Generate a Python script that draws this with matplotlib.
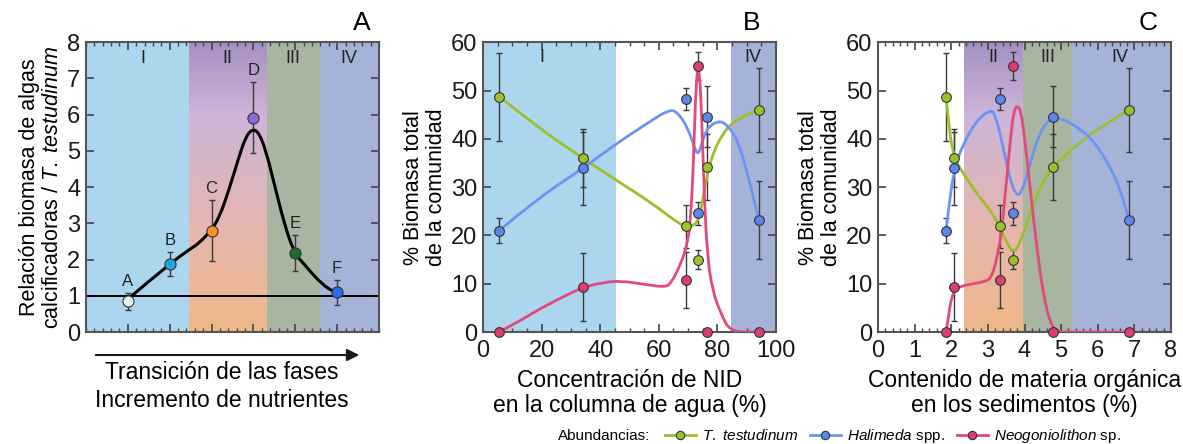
import numpy as np
import matplotlib
matplotlib.use("Agg")
import matplotlib.pyplot as plt
from matplotlib.colors import LinearSegmentedColormap
from matplotlib.lines import Line2D
from matplotlib.path import Path
from matplotlib.patches import PathPatch
from matplotlib.ticker import MultipleLocator

plt.rcParams["font.family"] = ["Liberation Sans", "DejaVu Sans"]
plt.rcParams["mathtext.fontset"] = "custom"
plt.rcParams["mathtext.rm"] = "Liberation Sans"
plt.rcParams["mathtext.it"] = "Liberation Sans:italic"

# ----------------------------
# Panel A: ratio calcifying algae / T. testudinum
# ----------------------------
phase_x = [1, 2, 3, 4, 5, 6]
phase_names = ["A", "B", "C", "D", "E", "F"]
ratio = [0.85, 1.88, 2.80, 5.92, 2.18, 1.10]
ratio_err = [0.23, 0.34, 0.85, 0.99, 0.50, 0.35]
ratio_colors = ["#e4f3ec", "#22a8e0", "#f7941d", "#8a6bd8", "#1d6a2c", "#2b6cf2"]

# fitted trend
trend_x = [1.08, 2.0, 2.47, 2.71, 2.98, 3.18, 3.42, 3.66, 3.82, 3.98, 4.13, 4.29,
           4.53, 4.73, 4.97, 5.25, 5.64, 5.96]
trend_y = [0.99, 1.885, 2.28, 2.46, 2.80, 3.15, 3.94, 4.86, 5.40, 5.61, 5.50, 5.04,
           3.94, 3.02, 2.19, 1.82, 1.31, 1.09]

# ----------------------------
# Panels B and C: % community biomass per site
# ----------------------------
nid = [5.5, 34.1, 69.4, 73.5, 76.4, 94.1]          # % NID in water column
organic = [1.86, 2.08, 3.33, 3.68, 4.77, 6.85]     # % organic matter in sediments

thal = [48.7, 36.0, 21.9, 15.0, 34.1, 46.0]
thal_err = [9.1, 6.0, 4.5, 1.9, 6.8, 8.7]
hali = [21.0, 33.9, 48.2, 24.6, 44.6, 23.2]
hali_err = [2.6, 7.5, 2.3, 2.4, 6.3, 8.0]
neog = [0.0, 9.3, 10.8, 55.0, 0.0, 0.0]
neog_err = [0.0, 7.0, 5.8, 2.9, 0.0, 0.0]

# trend lines, panel B
thal_b_x = [5.5, 18.5, 34.1, 45.5, 57.2, 67.5, 70.9, 73.7, 75.5, 77.8, 82.3, 86.9, 94.1]
thal_b_y = [48.8, 42.4, 36.0, 31.4, 26.9, 22.1, 21.7, 23.1, 29.3, 36.2, 41.7, 44.1, 46.1]
hali_b_x = [5.5, 18.5, 34.1, 45.5, 55.0, 63.5, 66.4, 69.8, 72.1, 73.4, 74.6, 76.6,
            80.6, 83.5, 86.9, 90.3, 94.1]
hali_b_y = [21.0, 27.6, 33.9, 39.0, 42.8, 46.1, 45.5, 42.4, 38.3, 36.6, 39.0, 42.4,
            43.8, 42.8, 39.7, 32.8, 23.2]
neog_b_x = [5.5, 12.8, 18.5, 25.3, 34.1, 41.3, 47.0, 55.0, 61.8, 64.1, 67.5, 69.8,
            70.9, 71.8, 72.5, 73.2, 73.9, 74.6, 75.5, 76.6, 78.3, 81.2, 84.4, 94.1]
neog_b_y = [0.0, 2.4, 4.5, 6.7, 9.3, 10.3, 10.6, 9.9, 9.3, 10.0, 14.1, 18.3,
            23.8, 34.8, 48.6, 54.8, 53.4, 45.2, 27.9, 15.5, 8.6, 3.8, 0.0, 0.0]

# trend lines, panel C
thal_c_x = [1.86, 1.94, 2.08, 2.33, 2.69, 3.06, 3.33, 3.51, 3.70, 3.88, 4.15, 4.47,
            4.77, 5.16, 5.70, 6.25, 6.85]
thal_c_y = [48.7, 41.8, 36.0, 32.8, 28.7, 25.3, 21.8, 18.4, 16.4, 18.4, 24.6, 30.8,
            34.2, 37.0, 40.4, 43.2, 46.0]
hali_c_x = [1.86, 1.92, 2.08, 2.33, 2.69, 3.06, 3.19, 3.38, 3.60, 3.79, 3.92, 4.11,
            4.33, 4.61, 4.97, 5.43, 5.88, 6.34, 6.62, 6.85]
hali_c_y = [21.0, 25.3, 33.9, 39.0, 43.8, 46.0, 45.2, 39.7, 31.5, 28.1, 29.0, 33.5,
            39.7, 43.8, 44.4, 42.5, 39.7, 34.2, 29.4, 23.2]
neog_c_x = [1.86, 1.92, 2.01, 2.14, 2.42, 2.97, 3.10, 3.24, 3.38, 3.51, 3.62, 3.71,
            3.80, 3.90, 4.01, 4.15, 4.33, 4.52, 4.70, 4.88, 5.16, 6.85]
neog_c_y = [0.0, 3.2, 7.4, 9.1, 9.8, 10.5, 11.5, 14.9, 21.1, 31.5, 40.4, 45.9,
            46.9, 45.9, 39.7, 30.1, 17.7, 7.4, 1.9, 0.1, 0.0, 0.0]

# colours
c_thal, c_thal_pt = "#9cbf2c", "#9cc22a"
c_hali, c_hali_pt = "#6d94f2", "#5b86ee"
c_neog, c_neog_pt = "#e2497c", "#dc3e73"
c_I, c_III, c_IV = "#acd5ee", "#a8b5a1", "#a6b3d8"
phase2_cmap = LinearSegmentedColormap.from_list(
    "phase2", [(0.0, "#efb887"), (0.35, "#e6b6ae"), (0.75, "#ccb5d8"), (1.0, "#a590c3")])

edge = "#555555"
tick_fs = 17
label_fs = 16.5


def style_axes(ax):
    for s in ax.spines.values():
        s.set_color(edge)
        s.set_linewidth(1.5)
    ax.tick_params(which="both", direction="in", top=True, right=True,
                   color="#444444", labelsize=tick_fs, labelcolor="#1a1a1a")
    ax.tick_params(which="major", length=6, width=1.2, pad=4)
    ax.tick_params(which="minor", length=3, width=1.0)
    ax.tick_params(axis="x", which="major", pad=6)


def phase2_band(ax, x0, x1, ymax):
    grad = np.linspace(0, 1, 256).reshape(-1, 1)
    ax.imshow(grad, extent=[x0, x1, 0, ymax], origin="lower", aspect="auto",
              cmap=phase2_cmap, zorder=0)


def smooth_line(ax, xs, ys, **kw):
    # quadratic bezier through the midpoints, rounding off the corners
    pts = list(zip(xs, ys))
    verts = [pts[0]]
    codes = [Path.MOVETO]
    for i in range(1, len(pts) - 1):
        mid = ((pts[i][0] + pts[i + 1][0]) / 2, (pts[i][1] + pts[i + 1][1]) / 2)
        verts += [pts[i], mid]
        codes += [Path.CURVE3, Path.CURVE3]
    verts.append(pts[-1])
    codes.append(Path.LINETO)
    ax.add_patch(PathPatch(Path(verts, codes), fill=False, capstyle="round",
                           joinstyle="round", **kw))


def draw_series(ax, x, y, err, cx, cy, line_c, pt_c):
    ax.errorbar(x, y, yerr=err, fmt="none", ecolor="#3a3a3a", elinewidth=1.0,
                capsize=2.5, capthick=1.0, zorder=2)
    smooth_line(ax, cx, cy, edgecolor=line_c, lw=2.0, zorder=3)
    ax.plot(x, y, "o", ms=7, mfc=pt_c, mec="#333333", mew=0.8, zorder=4, clip_on=False)


fig = plt.figure(figsize=(11.83, 4.44), dpi=100)
bottom, height = 0.252, 0.653

# ----------------------------
# Panel A
# ----------------------------
ax1 = fig.add_axes([0.0727, bottom, 0.2477, height])
ax1.axvspan(0, 2.47, color=c_I, zorder=0, lw=0)
phase2_band(ax1, 2.47, 4.33, 8)
ax1.axvspan(4.33, 5.58, color=c_III, zorder=0, lw=0)
ax1.axvspan(5.58, 7, color=c_IV, zorder=0, lw=0)
ax1.axhline(1, color="black", lw=1.4, zorder=2)
smooth_line(ax1, trend_x, trend_y, edgecolor="black", lw=2.2, zorder=3)
ax1.errorbar(phase_x, ratio, yerr=ratio_err, fmt="none", ecolor="#3a3a3a",
             elinewidth=1.0, capsize=2.5, zorder=2)
for xi, yi, ei, name, col in zip(phase_x, ratio, ratio_err, phase_names, ratio_colors):
    ax1.plot(xi, yi, "o", ms=8, mfc=col, mec="#333333", mew=0.8, zorder=4)
    ax1.text(xi, yi + ei + 0.1, name, ha="center", va="bottom", fontsize=12, color="#222222")
for xt, lab in zip([1.36, 3.37, 4.93, 6.27], ["I", "II", "III", "IV"]):
    ax1.text(xt, 7.55, lab, ha="center", va="center", fontsize=13, color="#222222")
ax1.set_xlim(0, 7)
ax1.set_ylim(0, 8)
ax1.set_xticks(phase_x)
ax1.xaxis.set_minor_locator(MultipleLocator(0.2))
ax1.yaxis.set_major_locator(MultipleLocator(1))
style_axes(ax1)
ax1.tick_params(axis="x", which="both", labelbottom=False)
ax1.set_ylabel("Relación biomasa de algas\ncalcificadoras / $\\mathit{T.\\ testudinum}$",
               fontsize=15.5, linespacing=1.15, labelpad=3)
ax1.annotate("", xy=(362 / 1183, 1 - 355 / 444), xytext=(93 / 1183, 1 - 355 / 444),
             xycoords="figure fraction",
             arrowprops=dict(arrowstyle="-|>", color="#1a1a1a", lw=1.5, mutation_scale=18))
fig.text(222 / 1183, 1 - 372 / 444, "Transición de las fases", ha="center", va="center",
         fontsize=label_fs)
fig.text(222 / 1183, 1 - 400 / 444, "Incremento de nutrientes", ha="center", va="center",
         fontsize=label_fs)
fig.text(362 / 1183, 1 - 23 / 444, "A", ha="center", va="center", fontsize=19)

# ----------------------------
# Panel B
# ----------------------------
ax2 = fig.add_axes([0.4083, bottom, 0.2477, height])
ax2.axvspan(0, 45.5, color=c_I, zorder=0, lw=0)
ax2.axvspan(84.5, 100, color=c_IV, zorder=0, lw=0)
draw_series(ax2, nid, thal, thal_err, thal_b_x, thal_b_y, c_thal, c_thal_pt)
draw_series(ax2, nid, hali, hali_err, hali_b_x, hali_b_y, c_hali, c_hali_pt)
draw_series(ax2, nid, neog, neog_err, neog_b_x, neog_b_y, c_neog, c_neog_pt)
ax2.text(20, 56.8, "I", ha="center", va="center", fontsize=13, color="#222222")
ax2.text(92, 56.8, "IV", ha="center", va="center", fontsize=13, color="#222222")
ax2.set_xlim(0, 100)
ax2.set_ylim(0, 60)
ax2.xaxis.set_major_locator(MultipleLocator(20))
ax2.xaxis.set_minor_locator(MultipleLocator(5))
ax2.yaxis.set_major_locator(MultipleLocator(10))
style_axes(ax2)
ax2.set_xlabel("Concentración de NID\nen la columna de agua (%)", fontsize=label_fs,
               linespacing=1.1, labelpad=5)
ax2.set_ylabel("% Biomasa total\nde la comunidad", fontsize=15.5, linespacing=1.15,
               labelpad=3)
fig.text(752 / 1183, 1 - 23 / 444, "B", ha="center", va="center", fontsize=19)

# ----------------------------
# Panel C
# ----------------------------
ax3 = fig.add_axes([0.7422, bottom, 0.2477, height])
phase2_band(ax3, 2.35, 3.97, 60)
ax3.axvspan(3.97, 5.29, color=c_III, zorder=0, lw=0)
ax3.axvspan(5.29, 8, color=c_IV, zorder=0, lw=0)
draw_series(ax3, organic, thal, thal_err, thal_c_x, thal_c_y, c_thal, c_thal_pt)
draw_series(ax3, organic, hali, hali_err, hali_c_x, hali_c_y, c_hali, c_hali_pt)
draw_series(ax3, organic, neog, neog_err, neog_c_x, neog_c_y, c_neog, c_neog_pt)
for xt, lab in zip([3.14, 4.64, 6.6], ["II", "III", "IV"]):
    ax3.text(xt, 56.8, lab, ha="center", va="center", fontsize=13, color="#222222")
ax3.set_xlim(0, 8)
ax3.set_ylim(0, 60)
ax3.xaxis.set_major_locator(MultipleLocator(1))
ax3.xaxis.set_minor_locator(MultipleLocator(0.2))
ax3.yaxis.set_major_locator(MultipleLocator(10))
style_axes(ax3)
ax3.set_xlabel("Contenido de materia orgánica\nen los sedimentos (%)", fontsize=label_fs,
               linespacing=1.1, labelpad=5)
ax3.set_ylabel("% Biomasa total\nde la comunidad", fontsize=15.5, linespacing=1.15,
               labelpad=3)
fig.text(1148 / 1183, 1 - 23 / 444, "C", ha="center", va="center", fontsize=19)

# ----------------------------
# Legend
# ----------------------------
handles = [
    Line2D([], [], color=c_thal, lw=2, marker="o", ms=6, mfc=c_thal_pt, mec="#333333", mew=0.8),
    Line2D([], [], color=c_hali, lw=2, marker="o", ms=6, mfc=c_hali_pt, mec="#333333", mew=0.8),
    Line2D([], [], color=c_neog, lw=2, marker="o", ms=6, mfc=c_neog_pt, mec="#333333", mew=0.8),
]
labels = ["$\\mathit{T.\\ testudinum}$", "$\\mathit{Halimeda}$ spp.",
          "$\\mathit{Neogoniolithon}$ sp."]
fig.text(558 / 1183, 1 - 436 / 444, "Abundancias:", ha="left", va="center", fontsize=11)
fig.legend(handles, labels, loc="center left", bbox_to_anchor=(665 / 1183, 1 - 436 / 444),
           ncol=3, frameon=False, fontsize=11, handlelength=2.0, handletextpad=0.4,
           columnspacing=0.8, borderpad=0, borderaxespad=0)

fig.savefig("out.png", dpi=100)
